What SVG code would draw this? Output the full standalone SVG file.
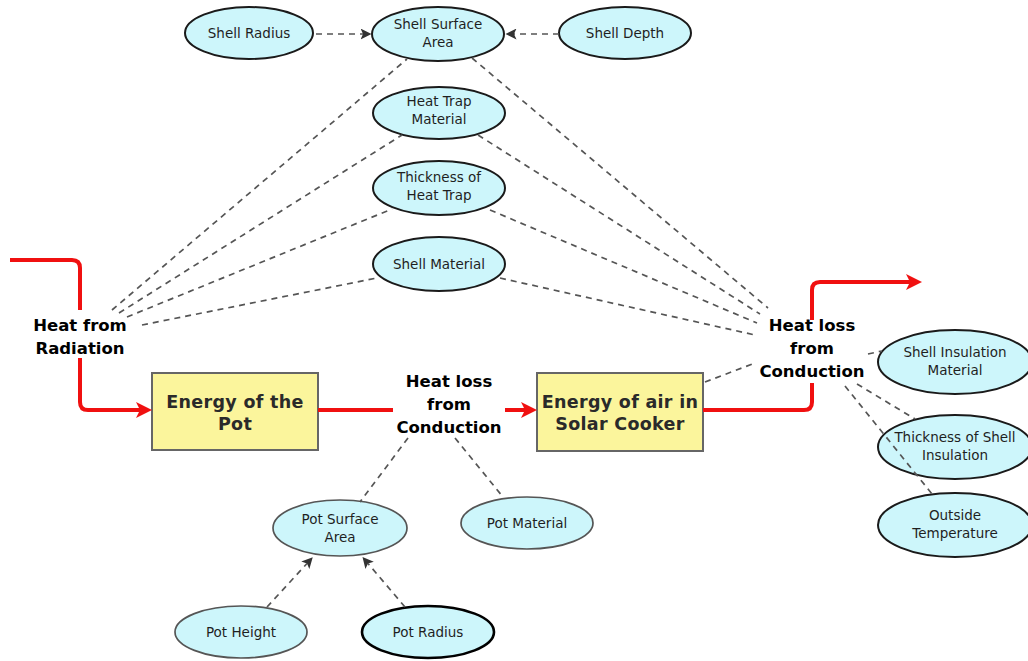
<svg xmlns="http://www.w3.org/2000/svg" width="1028" height="661" viewBox="0 0 1028 661">
<defs>
<style>
.ell{fill:#cdf6fb;stroke:#1a1a1a;stroke-width:2}
.ellg{fill:#cdf6fb;stroke:#555;stroke-width:1.7}
.ellb{fill:#cdf6fb;stroke:#000;stroke-width:2.6}
.box{fill:#fbf59c;stroke:#666;stroke-width:2}
.t{font-family:"DejaVu Sans","Liberation Sans",sans-serif;font-size:13.5px;fill:#1f1f1f;text-anchor:middle}
.bt{font-family:"DejaVu Sans","Liberation Sans",sans-serif;font-size:17.5px;font-weight:bold;fill:#2a2a2a;text-anchor:middle;letter-spacing:0.3px}
.lb{font-family:"DejaVu Sans","Liberation Sans",sans-serif;font-size:16.5px;font-weight:bold;fill:#000;text-anchor:middle}
.red{fill:none;stroke:#f01010;stroke-width:4}
.dash{fill:none;stroke:#555;stroke-width:1.7;stroke-dasharray:6,5}
</style>
<marker id="ra" markerUnits="userSpaceOnUse" markerWidth="18" markerHeight="16" refX="4" refY="8" orient="auto"><path d="M0,0 L16,8 L0,16 L4,8 z" fill="#f01010"/></marker>
<marker id="ga" markerUnits="userSpaceOnUse" markerWidth="12" markerHeight="11" refX="2.5" refY="5.5" orient="auto"><path d="M0,0 L11,5.5 L0,11 L2.5,5.5 z" fill="#333"/></marker>
</defs>
<rect width="1028" height="661" fill="#fff"/>

<g id="shell-radius"><ellipse class="ell" cx="249" cy="33" rx="64" ry="26"/><text class="t" x="249" y="38">Shell Radius</text></g>
<g id="shell-surface-area"><ellipse class="ell" cx="438" cy="34" rx="66" ry="27"/><text class="t" x="438" y="29">Shell Surface</text><text class="t" x="438" y="47">Area</text></g>
<g id="shell-depth"><ellipse class="ell" cx="625" cy="33" rx="66" ry="26"/><text class="t" x="625" y="38">Shell Depth</text></g>
<g id="heat-trap-material"><ellipse class="ell" cx="439" cy="113" rx="66" ry="26"/><text class="t" x="439" y="106">Heat Trap</text><text class="t" x="439" y="124">Material</text></g>
<g id="thickness-heat-trap"><ellipse class="ell" cx="439" cy="188" rx="66" ry="27"/><text class="t" x="439" y="182">Thickness of</text><text class="t" x="439" y="200">Heat Trap</text></g>
<g id="shell-material"><ellipse class="ell" cx="439" cy="264" rx="66" ry="27"/><text class="t" x="439" y="269">Shell Material</text></g>
<g id="shell-insulation-material"><ellipse class="ell" cx="955" cy="362" rx="77" ry="32"/><text class="t" x="955" y="357">Shell Insulation</text><text class="t" x="955" y="375">Material</text></g>
<g id="thickness-shell-insulation"><ellipse class="ell" cx="955" cy="447" rx="77" ry="32"/><text class="t" x="955" y="442">Thickness of Shell</text><text class="t" x="955" y="460">Insulation</text></g>
<g id="outside-temperature"><ellipse class="ell" cx="955" cy="525" rx="77" ry="32"/><text class="t" x="955" y="520">Outside</text><text class="t" x="955" y="538">Temperature</text></g>
<g id="pot-surface-area"><ellipse class="ellg" cx="340" cy="528" rx="67" ry="28"/><text class="t" x="340" y="524">Pot Surface</text><text class="t" x="340" y="542">Area</text></g>
<g id="pot-material"><ellipse class="ellg" cx="527" cy="523" rx="66" ry="26"/><text class="t" x="527" y="528">Pot Material</text></g>
<g id="pot-height"><ellipse class="ellg" cx="241" cy="632" rx="66" ry="26"/><text class="t" x="241" y="637">Pot Height</text></g>
<g id="pot-radius"><ellipse class="ellb" cx="428" cy="632" rx="66" ry="26"/><text class="t" x="428" y="637">Pot Radius</text></g>

<g id="energy-pot"><rect class="box" x="152" y="373" width="166" height="77"/><text class="bt" x="235" y="408">Energy of the</text><text class="bt" x="235" y="430">Pot</text></g>
<g id="energy-air"><rect class="box" x="537" y="373" width="166" height="78"/><text class="bt" x="620" y="408">Energy of air in</text><text class="bt" x="620" y="430">Solar Cooker</text></g>

<g id="heat-radiation"><text class="lb" x="80" y="331">Heat from</text><text class="lb" x="80" y="354">Radiation</text></g>
<g id="heat-loss-mid"><text class="lb" x="449" y="387">Heat loss</text><text class="lb" x="449" y="410">from</text><text class="lb" x="449" y="433">Conduction</text></g>
<g id="heat-loss-right"><text class="lb" x="812" y="331">Heat loss</text><text class="lb" x="812" y="354">from</text><text class="lb" x="812" y="377">Conduction</text></g>

<g id="connectors">
<path class="red" d="M10,260 H72 Q80,260 80,268 V310"/>
<path class="red" d="M80,358 V402 Q80,410 88,410 H140" marker-end="url(#ra)"/>
<path class="red" d="M318,410 H393"/>
<path class="red" d="M505,410 H525" marker-end="url(#ra)"/>
<path class="red" d="M703,410 H804 Q812,410 812,402 V383"/>
<path class="red" d="M812,320 V290 Q812,282 820,282 H910" marker-end="url(#ra)"/>

<path class="dash" d="M316,34 H363" marker-end="url(#ga)"/>
<path class="dash" d="M559,34 H514" marker-end="url(#ga)"/>
<path class="dash" d="M267,607 L307,563.5" marker-end="url(#ga)"/>
<path class="dash" d="M405,607 L368,563.5" marker-end="url(#ga)"/>

<path class="dash" d="M112,310 L407,59"/>
<path class="dash" d="M119,313 L402,135"/>
<path class="dash" d="M127,317 L392,209"/>
<path class="dash" d="M142,325 L377,278"/>

<path class="dash" d="M472,58 L768,308"/>
<path class="dash" d="M478,135 L760,314"/>
<path class="dash" d="M490,210 L757,323"/>
<path class="dash" d="M500,278 L755,335"/>
<path class="dash" d="M705,382 L755,363"/>

<path class="dash" d="M868,354 L882,351"/>
<path class="dash" d="M857,384 L915,419"/>
<path class="dash" d="M845,386 L932,494"/>

<path class="dash" d="M408,438 L360,502"/>
<path class="dash" d="M455,438 L503,497"/>
</g>
</svg>
